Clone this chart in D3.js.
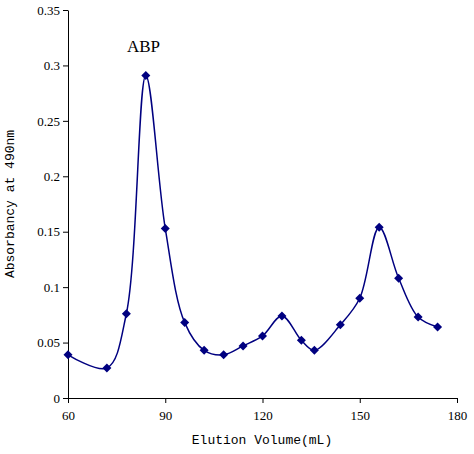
<!DOCTYPE html>
<html><head><meta charset="utf-8">
<script src="https://cdn.jsdelivr.net/npm/d3@7"></script>
<style>body{margin:0;background:#fff}</style>
</head><body>
<svg id="chart" width="474" height="454"></svg>
<script>
var volumes = [60, 72, 78, 84, 90, 96, 102, 108, 114, 120, 126, 132, 136, 144, 150, 156, 162, 168, 174];
var absorbance = [0.039, 0.027, 0.076, 0.291, 0.153, 0.068, 0.043, 0.039, 0.047, 0.056, 0.074, 0.052, 0.043, 0.066, 0.090, 0.154, 0.108, 0.073, 0.064];
var xTicks = [60, 90, 120, 150, 180];
var yTicks = [0, 0.05, 0.1, 0.15, 0.2, 0.25, 0.3, 0.35];

function main() {
  var svg = d3.select("#chart");
  var x = d3.scaleLinear().domain([60, 180]).range([68, 457]);
  var y = d3.scaleLinear().domain([0, 0.35]).range([398, 10]);
  var data = volumes.map(function(v, i) { return {v: v, a: absorbance[i]}; });

  var xAxis = svg.append("g").attr("transform", "translate(0,398)")
    .call(d3.axisBottom(x).tickValues(xTicks).tickSize(5).tickSizeOuter(0));
  var yAxis = svg.append("g").attr("transform", "translate(68,0)")
    .call(d3.axisLeft(y).tickValues(yTicks).tickSize(5).tickSizeOuter(0)
      .tickFormat(function(d) { return d === 0 ? "0" : String(+d.toFixed(2)); }));
  [xAxis, yAxis].forEach(function(g) {
    g.selectAll("text").attr("font-family", "Liberation Serif").attr("font-size", 13).attr("fill", "#000");
    g.selectAll("path,line").attr("stroke", "#000");
  });
  xAxis.selectAll("text").attr("dy", "1.1em");

  svg.append("path").datum(data)
    .attr("fill", "none").attr("stroke", "#000080").attr("stroke-width", 1.5)
    .attr("d", d3.line().x(function(d) { return x(d.v); }).y(function(d) { return y(d.a); })
      .curve(d3.curveCatmullRom.alpha(0.5)));

  svg.selectAll(".pt").data(data).enter().append("path")
    .attr("class", "pt")
    .attr("transform", function(d) { return "translate(" + x(d.v) + "," + y(d.a) + ")"; })
    .attr("d", "M0,-4.5L4.5,0L0,4.5L-4.5,0Z")
    .attr("fill", "#000080");

  svg.append("text").attr("x", 127).attr("y", 52)
    .attr("font-family", "Liberation Serif").attr("font-size", 17).text("ABP");

  svg.append("text").attr("x", 262).attr("y", 444).attr("text-anchor", "middle")
    .attr("font-family", "Liberation Mono").attr("font-size", 13).text("Elution Volume(mL)");

  svg.append("text").attr("transform", "translate(14,204) rotate(-90)").attr("text-anchor", "middle")
    .attr("font-family", "Liberation Mono").attr("font-size", 13).text("Absorbancy at 490nm");
}
main();
</script>
</body></html>
